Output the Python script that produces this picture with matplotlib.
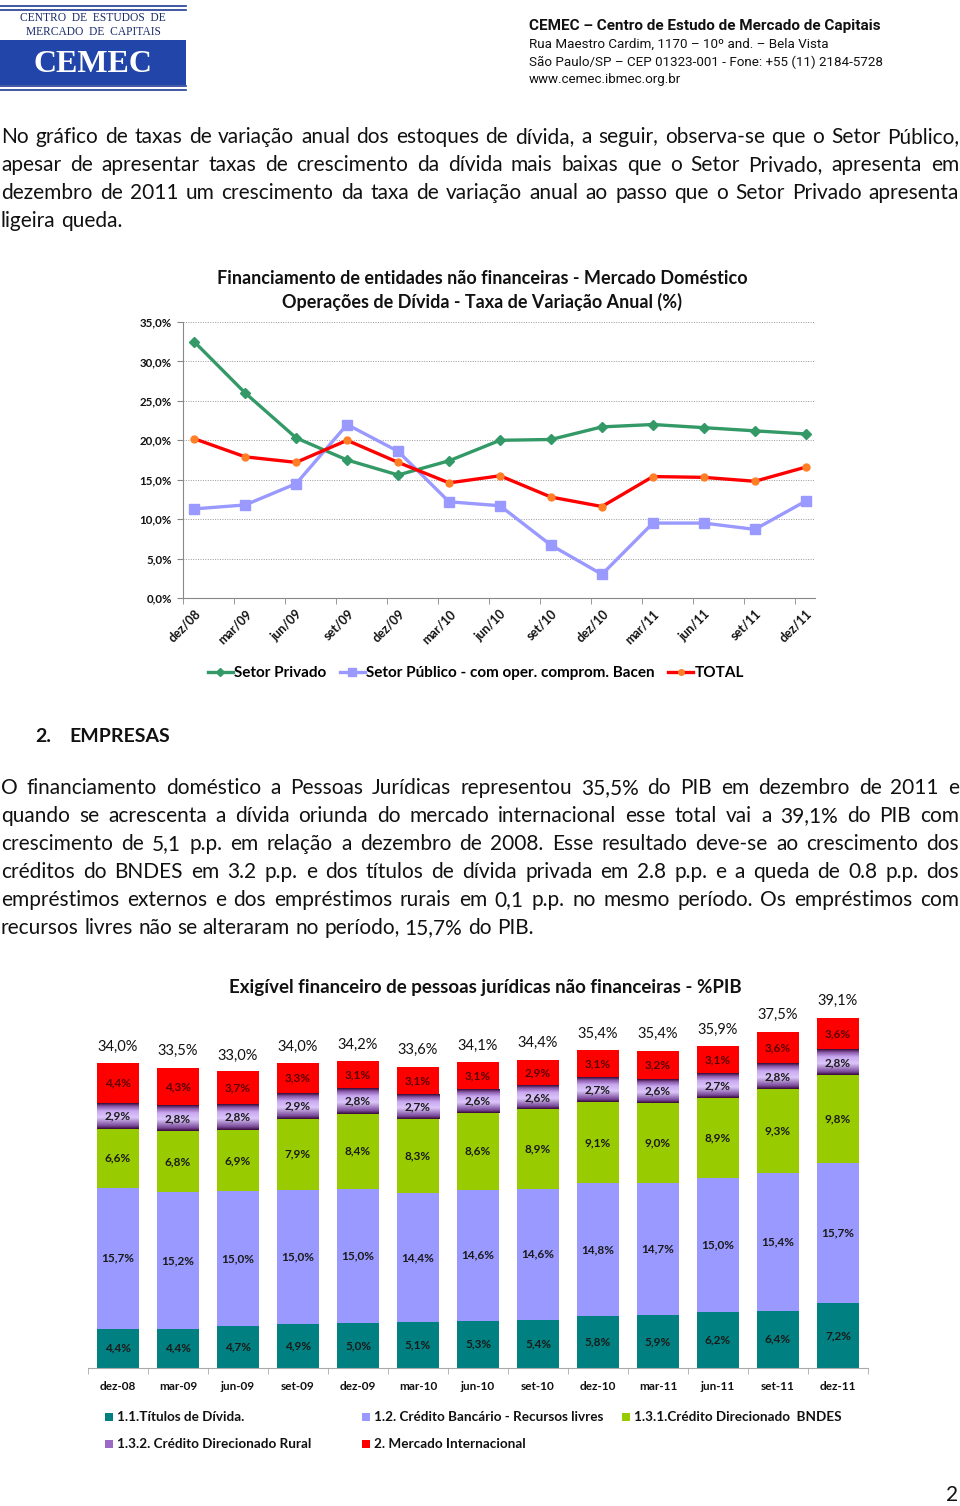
import matplotlib
matplotlib.use('Agg')
import matplotlib.pyplot as plt
import numpy as np
from matplotlib import font_manager as fm
from matplotlib.patches import Rectangle, Patch
from matplotlib.lines import Line2D
from matplotlib.colors import LinearSegmentedColormap

# ---------------- data ----------------
months_line = ['dez/08', 'mar/09', 'jun/09', 'set/09', 'dez/09', 'mar/10', 'jun/10',
               'set/10', 'dez/10', 'mar/11', 'jun/11', 'set/11', 'dez/11']
setor_privado = [32.5, 26.0, 20.3, 17.5, 15.6, 17.4, 20.0, 20.1, 21.7, 22.0, 21.6, 21.2, 20.8]
setor_publico = [11.3, 11.8, 14.5, 22.0, 18.6, 12.2, 11.7, 6.7, 3.0, 9.5, 9.5, 8.7, 12.3]
total_var = [20.2, 17.9, 17.2, 20.0, 17.2, 14.6, 15.5, 12.8, 11.6, 15.4, 15.3, 14.8, 16.6]
yticks_line = [0, 5, 10, 15, 20, 25, 30, 35]

months_bar = ['dez-08', 'mar-09', 'jun-09', 'set-09', 'dez-09', 'mar-10', 'jun-10',
              'set-10', 'dez-10', 'mar-11', 'jun-11', 'set-11', 'dez-11']
titulos = [4.4, 4.4, 4.7, 4.9, 5.0, 5.1, 5.3, 5.4, 5.8, 5.9, 6.2, 6.4, 7.2]
credito_livre = [15.7, 15.2, 15.0, 15.0, 15.0, 14.4, 14.6, 14.6, 14.8, 14.7, 15.0, 15.4, 15.7]
bndes = [6.6, 6.8, 6.9, 7.9, 8.4, 8.3, 8.6, 8.9, 9.1, 9.0, 8.9, 9.3, 9.8]
rural = [2.9, 2.8, 2.8, 2.9, 2.8, 2.7, 2.6, 2.6, 2.7, 2.6, 2.7, 2.8, 2.8]
internacional = [4.4, 4.3, 3.7, 3.3, 3.1, 3.1, 3.1, 2.9, 3.1, 3.2, 3.1, 3.6, 3.6]
totais = [34.0, 33.5, 33.0, 34.0, 34.2, 33.6, 34.1, 34.4, 35.4, 35.4, 35.9, 37.5, 39.1]

# ---------------- setup ----------------
W, H = 960, 1506
fig = plt.figure(figsize=(9.6, 15.06), dpi=100)
def fx(x): return x / W
def fy(y): return 1 - y / H

names = {f.name for f in fm.fontManager.ttflist}
NARROW = 'Liberation Sans Narrow' if 'Liberation Sans Narrow' in names else 'Roboto'
SERIF = 'Liberation Serif' if 'Liberation Serif' in names else 'DejaVu Serif'
CH = 'Lato'
BODY = 'Lato'
plt.rcParams['font.family'] = [CH, 'DejaVu Sans']

# ---------------- header ----------------
navy = '#1f3a93'
for yy in (6, 9.5, 86, 89.5):
    fig.add_artist(Line2D([fx(0), fx(186)], [fy(yy), fy(yy)], color=navy, lw=1.2))
fig.add_artist(Rectangle((fx(0), fy(85)), fx(186), 45 / H, color='#2145a8', lw=0))
fig.text(fx(93), fy(18), 'CENTRO  DE  ESTUDOS  DE', family=SERIF, fontsize=8.3,
         color='#1a2b6b', ha='center', va='center')
fig.text(fx(93), fy(32), 'MERCADO  DE  CAPITAIS', family=SERIF, fontsize=8.3,
         color='#1a2b6b', ha='center', va='center')
fig.text(fx(93), fy(64), 'CEMEC', family=SERIF, fontsize=23, weight='bold', color='white',
         ha='center', va='center')

fig.text(fx(529), fy(26), 'CEMEC – Centro de Estudo de Mercado de Capitais', family=NARROW,
         fontsize=11, weight='bold', color='#111111', ha='left', va='center')
for i, s in enumerate(['Rua Maestro Cardim, 1170 – 10º and. – Bela Vista',
                       'São Paulo/SP – CEP 01323-001 - Fone: +55 (11) 2184-5728',
                       'www.cemec.ibmec.org.br']):
    fig.text(fx(529), fy(44 + 18 * i), s, family=NARROW, fontsize=9.6, color='#111111',
             ha='left', va='center')

# ---------------- justified text ----------------
renderer = fig.canvas.get_renderer()

def justified(lines, y0, dy, x0, x1, size):
    t1 = fig.text(0, 0, 'x x', fontsize=size, family=BODY)
    t2 = fig.text(0, 0, 'xx', fontsize=size, family=BODY)
    spw = t1.get_window_extent(renderer).width - t2.get_window_extent(renderer).width
    t1.remove(); t2.remove()
    for i, line in enumerate(lines):
        y = fy(y0 + i * dy)
        words = line.split(' ')
        texts, widths = [], []
        for w in words:
            t = fig.text(0, y, w, fontsize=size, family=BODY, va='center', ha='left',
                         color='#111111')
            texts.append(t)
            widths.append(t.get_window_extent(renderer).width)
        if i == len(lines) - 1 or len(words) == 1:
            sp = spw
        else:
            sp = (x1 - x0 - sum(widths)) / (len(words) - 1)
        x = x0
        for t, w in zip(texts, widths):
            t.set_x(fx(x))
            x += w + sp

par1 = ['No gráfico de taxas de variação anual dos estoques de dívida, a seguir, observa-se que o Setor Público,',
        'apesar de apresentar taxas de crescimento da dívida mais baixas que o Setor Privado, apresenta em',
        'dezembro de 2011 um crescimento da taxa de variação anual ao passo que o Setor Privado apresenta',
        'ligeira queda.']
justified(par1, 137, 28, 1, 959, 15)

par2 = ['O financiamento doméstico a Pessoas Jurídicas representou 35,5% do PIB em dezembro de 2011 e',
        'quando se acrescenta a dívida oriunda do mercado internacional esse total vai a 39,1% do PIB com',
        'crescimento de 5,1 p.p. em relação a dezembro de 2008. Esse resultado deve-se ao crescimento dos',
        'créditos do BNDES em 3.2 p.p. e dos títulos de dívida privada em 2.8 p.p. e a queda de 0.8 p.p. dos',
        'empréstimos externos e dos empréstimos rurais em 0,1 p.p. no mesmo período. Os empréstimos com',
        'recursos livres não se alteraram no período, 15,7% do PIB.']
justified(par2, 788, 28, 1, 959, 15)

fig.text(fx(35), fy(737), '2.', fontsize=14, weight='bold', family=CH, va='center', color='#111111')
fig.text(fx(69), fy(737), 'EMPRESAS', fontsize=14, weight='bold', family=CH, va='center', color='#111111')
fig.text(fx(958), fy(1495), '2', fontsize=15, family=BODY, va='center', ha='right', color='#111111')

# ---------------- line chart ----------------
ax1 = fig.add_axes([fx(183), fy(598), (815 - 183) / W, (598 - 322) / H])
x = np.arange(len(months_line))
green, blue, red, orange = '#339966', '#9999FF', '#FF0000', '#FF7F27'
ax1.plot(x, setor_privado, color=green, lw=2.4, marker='D', ms=5.5, mfc=green, mec=green,
         label='Setor Privado', zorder=3)
ax1.plot(x, setor_publico, color=blue, lw=2.4, marker='s', ms=6.5, mfc=blue, mec=blue,
         label='Setor Público - com oper. comprom. Bacen', zorder=3)
ax1.plot(x, total_var, color=red, lw=2.4, marker='o', ms=5, mfc=orange, mec=orange,
         label='TOTAL', zorder=4)
ax1.set_ylim(0, 35)
ax1.set_xlim(-0.22, 12.18)
ax1.set_yticks(yticks_line)
ax1.set_yticklabels([f'{v:.1f}%'.replace('.', ',') for v in yticks_line],
                    fontsize=8.3, weight='bold', color='#111111')
ax1.yaxis.grid(True, ls=(0, (1, 1.5)), color='#9a9a9a', lw=0.7)
ax1.set_axisbelow(True)
ax1.set_xticks(x)
ax1.set_xticklabels(months_line, rotation=45, ha='right', va='top', rotation_mode='anchor',
                    fontsize=9, weight='bold', color='#111111')
ax1.tick_params(axis='x', length=0, pad=7)
ax1.set_xticks(x - 0.22, minor=True)
ax1.tick_params(axis='x', which='minor', length=4, color='#888888')
ax1.tick_params(axis='y', length=4, color='#888888', pad=4)
for s in ('top', 'right'):
    ax1.spines[s].set_visible(False)
for s in ('left', 'bottom'):
    ax1.spines[s].set_color('#888888')
    ax1.spines[s].set_linewidth(0.8)

fig.text(fx(482), fy(278), 'Financiamento de entidades não financeiras - Mercado Doméstico',
         fontsize=13, weight='bold', ha='center', va='center', color='#111111')
fig.text(fx(482), fy(302), 'Operações de Dívida - Taxa de Variação Anual (%)',
         fontsize=13, weight='bold', ha='center', va='center', color='#111111')

h, l = ax1.get_legend_handles_labels()
fig.legend(h, l, loc='center', bbox_to_anchor=(fx(476), fy(673)), ncol=3, frameon=False,
           prop={'family': CH, 'weight': 'bold', 'size': 11}, handlelength=1.6,
           handletextpad=0.1, columnspacing=0.9, markerscale=0.8)

# ---------------- stacked bar chart ----------------
ax2 = fig.add_axes([fx(88), fy(1368), 780 / W, 368 / H])
xb = np.arange(len(months_bar))
bw = 0.7
c_tit, c_liv, c_bnd, c_rur, c_int = '#008080', '#9999FF', '#99CC00', '#B48CE0', '#FF0000'
series = [(titulos, c_tit, '1.1.Títulos de Dívida.'),
          (credito_livre, c_liv, '1.2. Crédito Bancário - Recursos livres'),
          (bndes, c_bnd, '1.3.1.Crédito Direcionado  BNDES'),
          (rural, c_rur, '1.3.2. Crédito Direcionado Rural'),
          (internacional, c_int, '2. Mercado Internacional')]
bottom = np.zeros(len(xb))
grad = LinearSegmentedColormap.from_list('rur', [(0, '#3a0a3a'), (0.12, '#7a4a9a'),
                                                 (0.45, '#dcc6fa'), (0.7, '#c9a8f0'),
                                                 (0.88, '#8a5aaa'), (1, '#3a0a3a')])
gimg = np.linspace(0, 1, 64).reshape(-1, 1)
for vals, col, lab in series:
    bars = ax2.bar(xb, vals, bw, bottom=bottom, color=col, lw=0, zorder=2)
    if col == c_rur:
        for p in bars:
            ax2.imshow(gimg, cmap=grad, aspect='auto', origin='lower', zorder=2.5,
                       extent=(p.get_x(), p.get_x() + p.get_width(),
                               p.get_y(), p.get_y() + p.get_height()))
    tcol = '#5a0000' if col == c_int else '#1a1a1a'
    for xi, b, v in zip(xb, bottom, vals):
        ax2.text(xi, b + v / 2, f'{v:.1f}%'.replace('.', ','), ha='center', va='center',
                 fontsize=8.5, weight='bold', color=tcol, zorder=4)
    bottom = bottom + np.array(vals)
for xi, t in zip(xb, totais):
    ax2.annotate(f'{t:.1f}%'.replace('.', ','), (xi, t), xytext=(0, 12),
                 textcoords='offset points', ha='center', va='center', fontsize=10.5,
                 color='#111111', zorder=4)
ax2.set_xlim(-0.5, 12.5)
ax2.set_ylim(0, 368 / 8.96)
ax2.set_yticks([])
ax2.set_xticks(xb)
ax2.set_xticklabels(months_bar, fontsize=8.5, weight='bold', color='#111111')
ax2.tick_params(axis='x', length=0, pad=9)
ax2.set_xticks(np.arange(-0.5, 13, 1), minor=True)
ax2.tick_params(axis='x', which='minor', length=4, color='#aaaaaa')
for s in ('top', 'right', 'left'):
    ax2.spines[s].set_visible(False)
ax2.spines['bottom'].set_color('#aaaaaa')
ax2.spines['bottom'].set_linewidth(0.8)

fig.text(fx(485), fy(987), 'Exigível financeiro de pessoas jurídicas não financeiras - %PIB',
         fontsize=13.5, weight='bold', ha='center', va='center', color='#111111')

# legend (manual placement, two rows)
leg_pos = [(105, 1417), (362, 1417), (622, 1417), (105, 1444), (362, 1444)]
for (xx, yy), (vals, col, lab) in zip(leg_pos, series):
    fig.add_artist(Rectangle((fx(xx), fy(yy + 4)), 8 / W, 8 / H,
                             color=col if col != c_rur else '#9a6ac4', lw=0))
    fig.text(fx(xx + 12), fy(yy), lab, fontsize=9.7, weight='bold', ha='left', va='center',
             color='#111111')

fig.savefig('out.png', dpi=100)
